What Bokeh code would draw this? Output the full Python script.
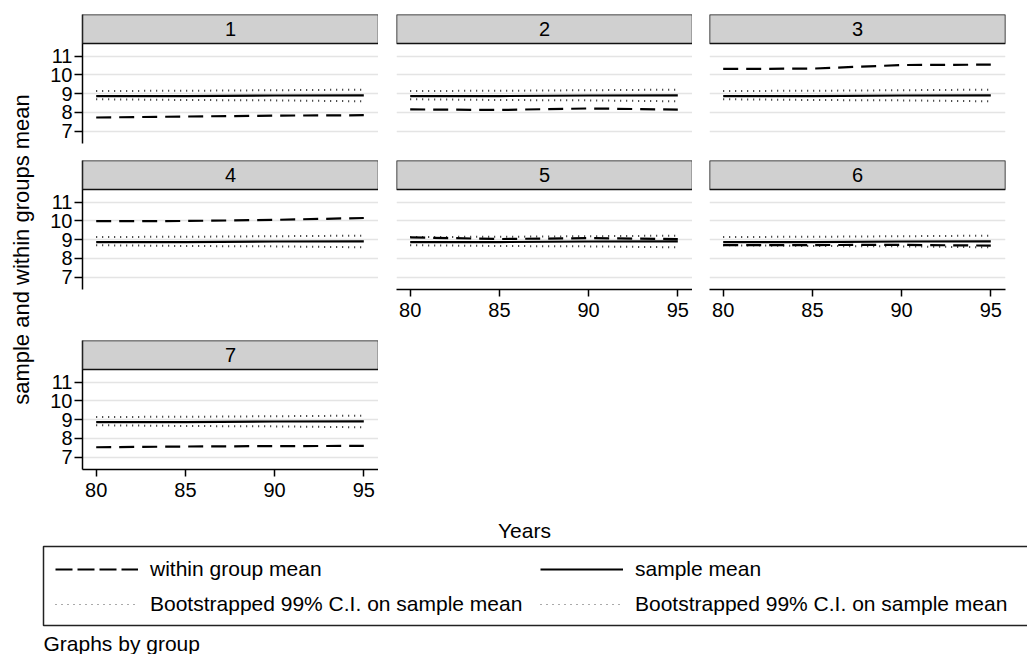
from math import pi
from bokeh.plotting import figure
from bokeh.layouts import row, column
from bokeh.models import (Range1d, FixedTicker, BoxAnnotation, Label, Legend,
                          LegendItem)
from bokeh.embed import file_html
from bokeh.resources import INLINE

# ---------------- data ----------------
years = [80, 85, 90, 95]
sample_mean = [8.87, 8.87, 8.90, 8.91]
ci_upper = [9.14, 9.15, 9.18, 9.21]
ci_lower = [8.70, 8.66, 8.64, 8.59]

within_g1 = [7.73, 7.78, 7.83, 7.85]
within_g2 = [8.16, 8.13, 8.21, 8.15]
within_g3 = [10.31, 10.33, 10.52, 10.54]
within_g4 = [9.98, 9.99, 10.05, 10.15]
within_g5 = [9.12, 9.03, 9.08, 9.03]
within_g6 = [8.71, 8.71, 8.72, 8.68]
within_g7 = [7.53, 7.57, 7.59, 7.60]

group_labels = ["1", "2", "3", "4", "5", "6", "7"]
within_means = [within_g1, within_g2, within_g3, within_g4,
                within_g5, within_g6, within_g7]

y_ticks = [7, 8, 9, 10, 11]
x_ticks = [80, 85, 90, 95]

y_title = "sample and within groups mean"
x_title = "Years"
note = "Graphs by group"
legend_labels = ["within group mean", "sample mean",
                 "Bootstrapped 99% C.I. on sample mean",
                 "Bootstrapped 99% C.I. on sample mean"]

# ---------------- styling / geometry ----------------
FONT = "Liberation Sans"
X0, X1 = 79.232, 95.824
Y0, YT = 6.346, 11.665
FRAME_W, PLOT_H, HEAD_H = 296, 100, 29
Y1 = YT + HEAD_H * (YT - Y0) / PLOT_H
DASH = "15 8"
DOT = "1 5"
TICK_FS = "20px"


def panel(idx, show_y, show_x, left, right, top, bottom):
    w = left + FRAME_W + right
    h = top + PLOT_H + HEAD_H + bottom
    p = figure(width=w, height=h, x_range=Range1d(X0, X1), y_range=Range1d(Y0, Y1),
               output_backend="svg", toolbar_location=None,
               min_border_left=left, min_border_right=right,
               min_border_top=top, min_border_bottom=bottom)
    p.outline_line_color = None
    p.background_fill_color = "white"
    p.border_fill_color = "white"

    p.xgrid.visible = False
    p.ygrid.ticker = FixedTicker(ticks=y_ticks)
    p.ygrid.grid_line_color = "#e4e4e4"
    p.ygrid.grid_line_width = 1.5

    for ax in (p.xaxis[0], p.yaxis[0]):
        ax.axis_line_color = "black"
        ax.axis_line_width = 1.5
        ax.major_tick_line_color = "black"
        ax.major_tick_line_width = 1.5
        ax.major_tick_in = 0
        ax.minor_tick_in = 0
        ax.minor_tick_out = 0
        ax.major_label_text_font = FONT
        ax.major_label_text_font_size = TICK_FS
        ax.major_label_text_color = "black"
    p.yaxis.ticker = FixedTicker(ticks=y_ticks)
    p.yaxis.major_tick_out = 8
    p.yaxis.major_label_standoff = 2
    p.yaxis.major_label_orientation = "horizontal"
    p.xaxis.ticker = FixedTicker(ticks=x_ticks)
    p.xaxis.major_tick_out = 7
    p.xaxis.major_label_standoff = 6
    p.yaxis.visible = show_y
    p.xaxis.visible = show_x

    p.line(years, ci_upper, line_color="#222222", line_width=2, line_dash=DOT)
    p.line(years, ci_lower, line_color="#222222", line_width=2, line_dash=DOT)
    p.line(years, sample_mean, line_color="black", line_width=2.2)
    p.line(years, within_means[idx], line_color="black", line_width=2.2, line_dash=DASH)

    p.add_layout(BoxAnnotation(left=X0, right=X1, bottom=YT, top=Y1,
                               fill_color="#d0d0d0", fill_alpha=1.0,
                               line_color="#111111", line_alpha=1.0, line_width=1.5))
    p.add_layout(Label(x=(X0 + X1) / 2, y=(YT + Y1) / 2, text=group_labels[idx],
                       text_align="center", text_baseline="middle",
                       text_font=FONT, text_font_size=TICK_FS, text_color="black"))
    return p


# row 1
f1 = panel(0, True, False, 42, 0, 14, 7)
f2 = panel(1, False, False, 18, 0, 14, 7)
f3 = panel(2, False, False, 17, 22, 14, 7)
# row 2
f4 = panel(3, True, False, 42, 0, 10, 41)
f5 = panel(4, False, True, 18, 0, 10, 41)
f6 = panel(5, False, True, 17, 22, 10, 41)
# row 3
f7 = panel(6, True, True, 42, 0, 10, 46)

grid = column(row(f1, f2, f3), row(f4, f5, f6), row(f7))

# y title strip
ys = figure(width=40, height=515, x_range=Range1d(0, 40), y_range=Range1d(515, 0),
            output_backend="svg", toolbar_location=None,
            min_border_left=0, min_border_right=0, min_border_top=0, min_border_bottom=0)
ys.axis.visible = False
ys.grid.visible = False
ys.outline_line_color = None
ys.add_layout(Label(x=21, y=249, text=y_title, angle=pi / 2,
                    text_align="center", text_baseline="middle",
                    text_font=FONT, text_font_size="22px", text_color="black"))

# footer with x title, legend and note (pixel coordinates, y measured from top)
ft = figure(width=1027, height=139, x_range=Range1d(0, 1027), y_range=Range1d(139, 0),
            output_backend="svg", toolbar_location=None,
            min_border_left=0, min_border_right=0, min_border_top=0, min_border_bottom=0)
ft.axis.visible = False
ft.grid.visible = False
ft.outline_line_color = None

# legend frame
ft.add_layout(BoxAnnotation(left=43, right=1045, top=31, bottom=110,
                            fill_color="white", fill_alpha=1.0,
                            line_color="#222222", line_alpha=1.0, line_width=1.5))

# hidden renderers that only provide legend glyphs
r_dash = ft.line(years, within_g1, line_color="black", line_width=2,
                 line_dash="17 5", visible=False)
r_solid = ft.line(years, sample_mean, line_color="black", line_width=2, visible=False)
r_dot1 = ft.line(years, ci_upper, line_color="#555555", line_width=1,
                 line_dash="1 5", visible=False)
r_dot2 = ft.line(years, ci_lower, line_color="#555555", line_width=1,
                 line_dash="1 5", visible=False)


def make_legend(items, x):
    return Legend(items=items, orientation="vertical", location=(x, 36),
                  margin=0, padding=0, spacing=7,
                  glyph_width=83, glyph_height=28, label_height=28, label_standoff=12,
                  label_text_font=FONT, label_text_font_size="21px",
                  label_text_color="black", border_line_color=None,
                  background_fill_alpha=0.0)


leg_a = make_legend([LegendItem(label=legend_labels[0], renderers=[r_dash]),
                     LegendItem(label=legend_labels[2], renderers=[r_dot1])], 55)
leg_b = make_legend([LegendItem(label=legend_labels[1], renderers=[r_solid]),
                     LegendItem(label=legend_labels[3], renderers=[r_dot2])], 540)
ft.add_layout(leg_a, "center")
ft.add_layout(leg_b, "center")

ft.add_layout(Label(x=524, y=15, text=x_title, text_align="center", text_baseline="middle",
                    text_font=FONT, text_font_size="21px", text_color="black"))
ft.add_layout(Label(x=43, y=128, text=note, text_align="left", text_baseline="middle",
                    text_font=FONT, text_font_size="21px", text_color="black"))

layout = column(row(ys, grid), ft)
open("out.html", "w").write(file_html(layout, INLINE))
